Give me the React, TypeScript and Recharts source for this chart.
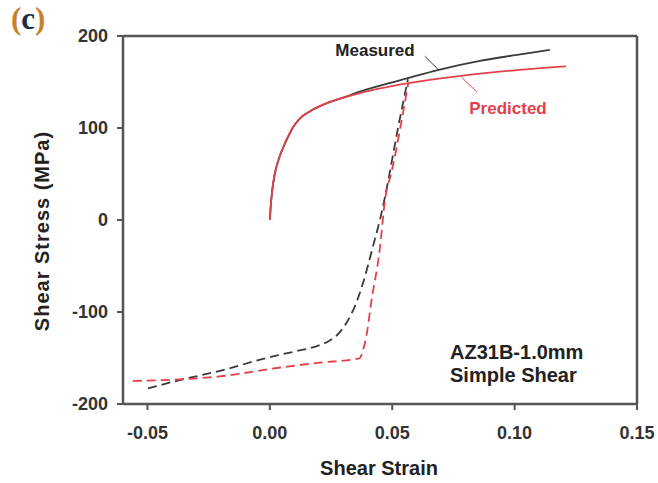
import React from 'react';
import { LineChart, Line, XAxis, YAxis, ReferenceLine } from 'recharts';

// Shear strain / shear stress (MPa)
const measuredLoadStrain = [0, 0.0005, 0.001, 0.002, 0.004, 0.0061, 0.008, 0.0094, 0.0123, 0.0163, 0.0233, 0.03, 0.0368, 0.045, 0.056, 0.0686, 0.0858, 0.101, 0.1144];
const measuredLoadStress = [0, 20, 33, 50, 69, 83, 93.5, 100.5, 110.5, 118, 127, 133, 139.5, 146, 154, 163, 173, 179.5, 185];

const predictedLoadStrain = [0, 0.0005, 0.001, 0.002, 0.004, 0.0061, 0.008, 0.0094, 0.0123, 0.0163, 0.0233, 0.03, 0.0368, 0.045, 0.056, 0.0788, 0.101, 0.121];
const predictedLoadStress = [0, 20, 33, 50, 69, 83, 93.5, 100.5, 110.5, 118, 127, 133, 138, 143, 148.5, 157, 163, 167];

const measuredReverseStrain = [-0.0498, -0.0368, -0.0204, 0, 0.01, 0.0204, 0.0245, 0.0275, 0.031, 0.035, 0.038, 0.042, 0.046, 0.048, 0.052, 0.0564];
const measuredReverseStress = [-183, -174, -164, -149, -143, -136, -131, -125, -113, -92, -69, -30, 12, 38, 95, 153];

const predictedReverseStrain = [-0.056, -0.0204, 0, 0.0204, 0.0355, 0.0368, 0.038, 0.0395, 0.0415, 0.045, 0.047, 0.0498, 0.0565];
const predictedReverseStress = [-175, -170, -162, -155, -151, -150, -142, -125, -88, -30, 21, 53, 148];

const xTicks = [-0.05, 0, 0.05, 0.1, 0.15];
const yTicks = [-200, -100, 0, 100, 200];

const toPts = (xs: number[], ys: number[]) => xs.map((x, i) => ({ x, y: ys[i] }));

const measuredLoad = toPts(measuredLoadStrain, measuredLoadStress);
const predictedLoad = toPts(predictedLoadStrain, predictedLoadStress);
const measuredReverse = toPts(measuredReverseStrain, measuredReverseStress);
const predictedReverse = toPts(predictedReverseStrain, predictedReverseStress);

const BLACK = '#3a3a3a';
const RED = '#e2404a';
const AXIS = '#555555';
const FONT = '"Liberation Sans", Arial, sans-serif';

const tickStyle = { fill: '#333', fontSize: 18, fontWeight: 700, fontFamily: FONT };

export default function App() {
  return (
    <div style={{ position: 'absolute', left: 0, top: 0, width: 658, height: 483, background: '#fff' }}>
      <LineChart width={658} height={483} margin={{ top: 36, right: 21, left: 63, bottom: 39 }}>
        <XAxis
          type="number"
          dataKey="x"
          domain={[-0.06, 0.15]}
          ticks={xTicks}
          allowDataOverflow
          tickFormatter={(v: number) => v.toFixed(2)}
          tick={tickStyle}
          tickSize={6}
          tickMargin={16}
          height={40}
          axisLine={{ stroke: AXIS, strokeWidth: 2.5 }}
          tickLine={{ stroke: AXIS, strokeWidth: 2 }}
        />
        <YAxis
          type="number"
          dataKey="y"
          domain={[-200, 200]}
          ticks={yTicks}
          allowDataOverflow
          tick={tickStyle}
          tickSize={6}
          tickMargin={9}
          width={60}
          axisLine={{ stroke: AXIS, strokeWidth: 2.5 }}
          tickLine={{ stroke: AXIS, strokeWidth: 2 }}
        />
        <ReferenceLine y={200} stroke={AXIS} strokeWidth={2.5} />
        <ReferenceLine x={0.15} stroke={AXIS} strokeWidth={2.5} />
        <ReferenceLine segment={[{ x: 0.0633, y: 178 }, { x: 0.0686, y: 164 }]} stroke={BLACK} strokeWidth={1} />
        <ReferenceLine segment={[{ x: 0.0784, y: 155 }, { x: 0.0846, y: 139 }]} stroke={RED} strokeWidth={1} />
        <Line data={measuredReverse} dataKey="y" type="monotone" stroke={BLACK} strokeWidth={1.8} strokeDasharray="9 5" dot={false} isAnimationActive={false} />
        <Line data={predictedReverse} dataKey="y" type="monotone" stroke={RED} strokeWidth={1.8} strokeDasharray="9 5" dot={false} isAnimationActive={false} />
        <Line data={measuredLoad} dataKey="y" type="monotone" stroke={BLACK} strokeWidth={1.8} dot={false} isAnimationActive={false} />
        <Line data={predictedLoad} dataKey="y" type="monotone" stroke={RED} strokeWidth={1.8} dot={false} isAnimationActive={false} />
      </LineChart>
      <svg width={658} height={483} style={{ position: 'absolute', left: 0, top: 0, pointerEvents: 'none' }}>
        <text x={11} y={29} fontFamily='"Liberation Serif", "Times New Roman", serif' fontWeight={700} fontSize={31}>
          <tspan fill="#c8802a">(</tspan>
          <tspan fill="#1c2b4a">c</tspan>
          <tspan fill="#c8802a">)</tspan>
        </text>
        <text x={375} y={50} textAnchor="middle" dominantBaseline="central" fill="#222" fontFamily={FONT} fontWeight={700} fontSize={17}>Measured</text>
        <text x={508} y={108} textAnchor="middle" dominantBaseline="central" fill={RED} fontFamily={FONT} fontWeight={700} fontSize={17}>Predicted</text>
        <text x={450} y={352} dominantBaseline="central" fill="#222" fontFamily={FONT} fontWeight={700} fontSize={20}>AZ31B-1.0mm</text>
        <text x={450} y={375} dominantBaseline="central" fill="#222" fontFamily={FONT} fontWeight={700} fontSize={20}>Simple Shear</text>
        <text x={379} y={468} textAnchor="middle" dominantBaseline="central" fill="#222" fontFamily={FONT} fontWeight={700} fontSize={20}>Shear Strain</text>
        <text x={42} y={231} textAnchor="middle" dominantBaseline="central" fill="#222" fontFamily={FONT} fontWeight={700} fontSize={20} letterSpacing={1} transform="rotate(-90 42 231)">Shear Stress (MPa)</text>
      </svg>
    </div>
  );
}
